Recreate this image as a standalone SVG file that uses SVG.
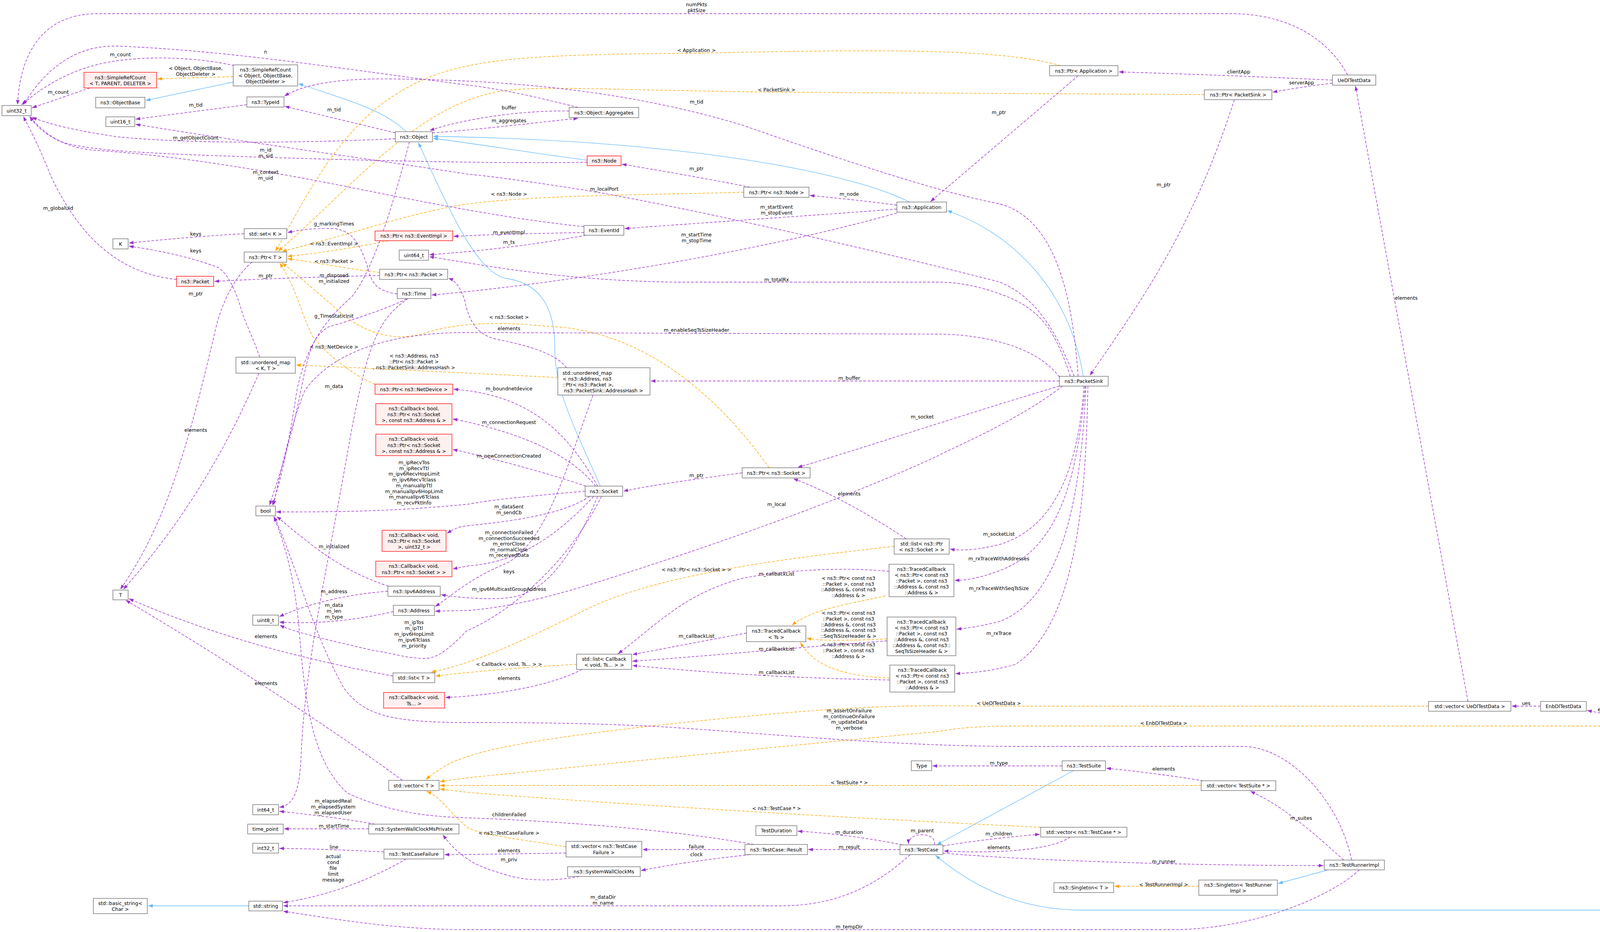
<svg xmlns="http://www.w3.org/2000/svg" width="4705" height="2385" viewBox="0 0 4705 2385">
<style>
text{font-family:"DejaVu Sans","Liberation Sans",sans-serif;font-size:12.5px;fill:#000;text-anchor:middle;dominant-baseline:central}
.n rect{fill:#fff;stroke:#666;stroke-width:1.3}
.r rect{fill:#fff0f0;stroke:#f00;stroke-width:1.3}
.g rect{fill:#999;stroke:#666;stroke-width:1.3}
.p{fill:none;stroke:#9a32cd;stroke-width:1.4;stroke-dasharray:7,4;marker-end:url(#ap)}
.o{fill:none;stroke:#ffa500;stroke-width:1.4;stroke-dasharray:7,4;marker-end:url(#ao)}
.b{fill:none;stroke:#63b8ff;stroke-width:1.3;marker-end:url(#ab)}
</style>
<defs>
<marker id="ap" markerUnits="userSpaceOnUse" markerWidth="13" markerHeight="9" refX="12" refY="4.5" orient="auto"><path d="M0,0 L12,4.5 L0,9 z" fill="#9a32cd"/></marker>
<marker id="ao" markerUnits="userSpaceOnUse" markerWidth="13" markerHeight="9" refX="12" refY="4.5" orient="auto"><path d="M0,0 L12,4.5 L0,9 z" fill="#ffa500"/></marker>
<marker id="ab" markerUnits="userSpaceOnUse" markerWidth="13" markerHeight="9" refX="12" refY="4.5" orient="auto"><path d="M0,0 L12,4.5 L0,9 z" fill="#63b8ff"/></marker>
</defs>
<rect width="4705" height="2385" fill="#fff"/>
<g id="edges">
<path class="b" d="M597,210 L373,257"/>
<path class="b" d="M1040,337 C980,280 900,260 764,214"/>
<path class="b" d="M1503,410 C1350,390 1200,365 1109,354"/>
<path class="b" d="M2330,518 C2200,450 1800,360 1109,349"/>
<path class="b" d="M1537,1244 C1450,1050 1420,990 1420,880 C1418,760 1360,720 1292,712 C1220,690 1160,560 1071,365"/>
<path class="b" d="M2773,963 C2740,750 2600,600 2425,539"/>
<path class="b" d="M2748,1972 L2398,2162"/>
<path class="b" d="M4558,2306 C4400,2315 4300,2329 4100,2329 L2770,2329 C2600,2329 2480,2260 2395,2189"/>
<path class="b" d="M3400,2226 L3272,2261"/>
<path class="b" d="M637,2318 L379,2318"/>
<path class="o" d="M597,196 L403,202"/>
<path class="o" d="M995,616 C900,635 800,650 736,656"/>
<path class="o" d="M972,697 C900,690 800,670 736,662"/>
<path class="o" d="M2715,168 C2550,120 2200,128 1783,136 C1300,140 1150,150 1000,250 C850,350 760,550 705,643"/>
<path class="o" d="M3083,242 L2000,236 C1500,230 1350,215 1250,240 C1050,290 900,480 712,643"/>
<path class="o" d="M1904,492 C1600,500 1300,500 1150,530 C1000,560 900,600 722,643"/>
<path class="o" d="M960,983 C900,960 830,900 800,860 C770,800 760,740 716,673"/>
<path class="o" d="M1969,1197 C1800,960 1600,840 1400,835 C1250,820 1150,830 1080,855 C980,880 900,830 850,780 C800,740 760,700 722,673"/>
<path class="o" d="M1428,966 C1200,955 900,940 758,934"/>
<path class="o" d="M2289,1398 C2100,1420 1700,1460 1500,1560 C1300,1660 1200,1700 1104,1720"/>
<path class="o" d="M1476,1700 C1300,1710 1200,1720 1115,1730"/>
<path class="o" d="M2267,1525 C2150,1550 2080,1560 2027,1600"/>
<path class="o" d="M2271,1635 C2150,1640 2100,1640 2065,1633"/>
<path class="o" d="M2278,1735 C2150,1730 2080,1700 2049,1644"/>
<path class="o" d="M3657,1807 L2600,1807 C2400,1807 2300,1800 2000,1825 C1600,1860 1300,1900 1200,1935 C1150,1950 1120,1970 1090,1995"/>
<path class="o" d="M4174,1858 L2600,1858 C2460,1858 2420,1870 2400,1872 C2000,1910 1600,1950 1200,1990 L1126,2000"/>
<path class="o" d="M3075,2010 L1126,2010"/>
<path class="o" d="M2664,2117 C2300,2100 1600,2060 1200,2028 L1126,2019"/>
<path class="o" d="M1449,2167 C1350,2150 1250,2140 1200,2120 C1150,2080 1130,2040 1092,2025"/>
<path class="o" d="M3069,2268 L2853,2268"/>
<path class="p" d="M2760,194 L2382,516"/>
<path class="p" d="M3160,255 C3050,600 2900,800 2790,961"/>
<path class="p" d="M3411,205 C3200,195 3000,188 2864,184"/>
<path class="p" d="M3411,213 C3350,220 3300,228 3258,236"/>
<path class="p" d="M3450,192 C3400,100 3300,35 3150,35 L250,35 C100,35 50,150 45,268"/>
<path class="p" d="M3758,1795 L3470,220"/>
<path class="p" d="M3944,1807 L3870,1807"/>
<path class="p" d="M4205,1845 C4150,1835 4100,1825 4063,1818"/>
<path class="p" d="M4618,2294 L4301,1872"/>
<path class="p" d="M230,225 L82,276"/>
<path class="p" d="M600,168 C500,145 350,140 250,165 C150,190 90,240 55,268"/>
<path class="p" d="M1480,275 C1400,255 1300,230 1200,218 C900,180 600,130 300,118 C200,115 120,170 60,268"/>
<path class="p" d="M2760,963 C2745,750 2700,560 2560,522 C2450,500 2300,460 1900,320 C1600,230 1300,205 1000,202 C850,200 770,220 728,246"/>
<path class="p" d="M632,268 L347,305"/>
<path class="p" d="M1012,340 L729,272"/>
<path class="p" d="M1012,355 C800,365 500,370 300,350 C200,335 130,320 82,300"/>
<path class="p" d="M1107,340 C1250,330 1400,310 1480,303"/>
<path class="p" d="M1457,284 C1350,282 1200,300 1100,334"/>
<path class="p" d="M1503,415 C1300,420 900,410 600,400 C300,390 200,380 150,360 C110,340 90,320 76,298"/>
<path class="p" d="M1920,479 C1800,455 1650,430 1592,420"/>
<path class="p" d="M2296,525 C2200,512 2120,505 2073,500"/>
<path class="p" d="M2296,535 C2100,550 1800,570 1599,585"/>
<path class="p" d="M2296,545 C2000,630 1500,720 1105,755"/>
<path class="p" d="M1495,580 C1300,560 1100,520 900,480 C600,420 400,395 250,385 C170,380 120,350 76,298"/>
<path class="p" d="M1495,595 C1350,598 1250,600 1161,605"/>
<path class="p" d="M1500,602 C1350,630 1200,645 1099,652"/>
<path class="p" d="M2750,963 C2700,840 2650,760 2560,722 C2400,680 1900,560 1547,495 C1400,470 1250,450 1200,446 C900,400 600,360 347,318"/>
<path class="p" d="M2740,963 C2700,840 2660,790 2568,755 C2500,730 2450,722 2400,722 L1736,722 C1500,720 1300,690 1200,673 C1150,665 1120,660 1099,657"/>
<path class="p" d="M1045,764 C960,820 940,900 900,1100 C830,1500 780,1700 770,1950 C765,2030 750,2060 715,2066"/>
<path class="p" d="M1017,752 C960,745 950,720 940,680 C920,620 900,590 855,585 C800,583 760,590 736,595"/>
<path class="p" d="M1041,765 C990,790 900,820 842,836 C800,860 790,900 770,1000 C740,1150 710,1230 690,1293"/>
<path class="p" d="M625,598 C500,605 400,615 330,622"/>
<path class="p" d="M665,914 C650,870 630,830 620,800 C600,730 580,700 560,685 C480,655 400,640 330,630"/>
<path class="p" d="M663,955 C600,1100 500,1300 316,1508"/>
<path class="p" d="M645,671 C610,700 570,760 550,850 C480,1150 420,1350 308,1508"/>
<path class="p" d="M452,715 C300,700 200,600 130,450 C90,350 70,320 60,298"/>
<path class="p" d="M972,705 C850,708 700,712 549,720"/>
<path class="p" d="M1048,363 C1000,550 950,700 900,760 C820,830 780,900 760,1000 C740,1130 720,1230 697,1293"/>
<path class="p" d="M1450,941 C1420,900 1330,880 1280,870 C1220,860 1200,820 1190,770 C1180,740 1170,720 1148,712"/>
<path class="p" d="M2712,975 L1666,975"/>
<path class="p" d="M2712,965 C2650,880 2500,855 2400,855 L1200,851 C1000,850 850,900 780,1000 C740,1100 720,1200 700,1293"/>
<path class="p" d="M2712,988 C2500,1050 2200,1150 2042,1196"/>
<path class="p" d="M2720,988 C2600,1080 2450,1140 2400,1167 C2200,1260 1900,1370 1659,1448 C1500,1500 1350,1550 1200,1562 L1114,1564"/>
<path class="p" d="M2775,988 C2760,1200 2700,1350 2560,1393 C2500,1408 2460,1410 2432,1405"/>
<path class="p" d="M2778,988 C2760,1200 2720,1400 2560,1460 C2500,1482 2470,1485 2444,1485"/>
<path class="p" d="M2780,988 C2770,1200 2740,1520 2560,1590 C2500,1605 2470,1608 2449,1610"/>
<path class="p" d="M2785,988 C2780,1300 2750,1600 2600,1700 C2530,1720 2480,1722 2446,1724"/>
<path class="p" d="M2320,1379 C2200,1300 2100,1250 2031,1225"/>
<path class="p" d="M1900,1210 C1750,1230 1650,1245 1596,1257"/>
<path class="p" d="M1530,1244 C1450,1100 1350,1010 1161,996"/>
<path class="p" d="M1525,1244 C1450,1150 1300,1100 1159,1072"/>
<path class="p" d="M1500,1244 C1400,1210 1250,1170 1159,1150"/>
<path class="p" d="M1498,1257 C1350,1270 1250,1280 1200,1290 C1000,1310 850,1310 707,1310"/>
<path class="p" d="M1510,1270 C1450,1310 1350,1330 1200,1345 C1170,1348 1160,1355 1144,1365"/>
<path class="p" d="M1520,1270 C1400,1400 1300,1440 1200,1448 L1159,1456"/>
<path class="p" d="M1530,1270 C1450,1460 1380,1520 1300,1530 C1250,1535 1180,1530 1129,1522"/>
<path class="p" d="M1518,1011 C1450,1200 1400,1380 1300,1440 C1200,1480 1150,1530 1114,1552"/>
<path class="p" d="M1540,1270 C1460,1430 1320,1560 1194,1615 C1150,1660 1120,1685 1087,1685 C1040,1685 1000,1670 957,1665 C850,1640 760,1620 716,1600"/>
<path class="p" d="M993,1513 C900,1520 800,1540 715,1578"/>
<path class="p" d="M1007,1565 C900,1590 800,1597 715,1592"/>
<path class="p" d="M995,1500 C900,1470 830,1420 780,1380 C740,1350 720,1330 708,1322"/>
<path class="p" d="M1006,1730 C850,1700 600,1650 330,1532"/>
<path class="p" d="M1030,1997 C900,1900 600,1700 322,1536"/>
<path class="p" d="M1490,1713 C1400,1760 1250,1780 1140,1785"/>
<path class="p" d="M1911,1620 C1800,1640 1700,1660 1619,1675"/>
<path class="p" d="M2276,1462 C2150,1450 2000,1460 1900,1480 C1750,1520 1680,1600 1582,1673"/>
<path class="p" d="M2271,1640 C2000,1660 1800,1680 1619,1692"/>
<path class="p" d="M2278,1740 C2000,1735 1800,1720 1619,1703"/>
<path class="p" d="M960,2109 C880,2095 800,2085 715,2076"/>
<path class="p" d="M944,2121 L727,2121"/>
<path class="p" d="M983,2180 C880,2175 800,2172 715,2171"/>
<path class="p" d="M1040,2198 C950,2250 850,2290 725,2310"/>
<path class="p" d="M1483,2243 C1420,2255 1350,2255 1300,2240 C1250,2225 1220,2215 1200,2200 C1170,2180 1150,2160 1134,2136"/>
<path class="p" d="M1449,2183 C1300,2185 1200,2187 1138,2187"/>
<path class="p" d="M1907,2174 L1645,2174"/>
<path class="p" d="M1920,2187 C1800,2200 1700,2215 1641,2228"/>
<path class="p" d="M1930,2161 C1700,2120 1400,2100 1200,2093 C1100,2090 1000,2080 890,2030 C800,1950 780,1800 765,1600 C750,1450 720,1370 701,1322"/>
<path class="p" d="M2304,2174 L2069,2174"/>
<path class="p" d="M2310,2162 C2200,2140 2100,2130 2042,2127"/>
<path class="p" d="M2392,2162 C2395,2145 2380,2136 2360,2136 C2340,2136 2325,2145 2326,2160"/>
<path class="p" d="M2414,2165 C2500,2150 2600,2140 2662,2135"/>
<path class="p" d="M2740,2142 C2700,2170 2600,2180 2500,2180 C2450,2180 2430,2178 2416,2178"/>
<path class="p" d="M2414,2183 C2600,2200 3000,2215 3388,2215"/>
<path class="p" d="M2330,2187 C2250,2260 2150,2318 2000,2318 L725,2318"/>
<path class="p" d="M3480,2226 C3400,2300 3200,2379 3000,2379 L1200,2379 C1000,2379 850,2350 725,2332"/>
<path class="p" d="M3440,2201 C3350,2120 3280,2060 3201,2025"/>
<path class="p" d="M3460,2201 C3430,2050 3300,1910 3180,1910 L2600,1910 C2300,1910 2000,1880 1700,1860 C1500,1849 1300,1849 1200,1849 C1000,1849 930,1830 880,1760 C800,1620 760,1450 702,1322"/>
<path class="p" d="M2719,1960 L2387,1960"/>
<path class="p" d="M3080,1998 C3000,1985 2900,1972 2832,1966"/>
</g>
<g id="edge-labels">
<text x="308" y="139">m_count</text>
<text x="680" y="132">n</text>
<text x="501" y="174">&lt; Object, ObjectBase,<tspan x="501" dy="15">ObjectDeleter &gt;</tspan></text>
<text x="149" y="235">m_count</text>
<text x="501" y="268">m_tid</text>
<text x="855" y="280">m_tid</text>
<text x="501" y="352">m_getObjectCount</text>
<text x="680" y="383">m_id<tspan x="680" dy="15">m_sid</tspan></text>
<text x="680" y="440">m_context<tspan x="680" dy="15">m_uid</tspan></text>
<text x="149" y="532">m_globalUid</text>
<text x="855" y="572">g_markingTimes</text>
<text x="501" y="598">keys</text>
<text x="501" y="641">keys</text>
<text x="855" y="623">&lt; ns3::EventImpl &gt;</text>
<text x="855" y="668">&lt; ns3::Packet &gt;</text>
<text x="680" y="705">m_ptr</text>
<text x="855" y="704">m_disposed<tspan x="855" dy="15">m_initialized</tspan></text>
<text x="501" y="751">m_ptr</text>
<text x="855" y="808">g_TimeStaticInit</text>
<text x="855" y="887">&lt; ns3::NetDevice &gt;</text>
<text x="1060" y="910">&lt; ns3::Address, ns3<tspan x="1060" dy="15">::Ptr&lt; ns3::Packet &gt;</tspan><tspan x="1060" dy="15">, ns3::PacketSink::AddressHash &gt;</tspan></text>
<text x="855" y="988">m_data</text>
<text x="501" y="1100">elements</text>
<text x="1060" y="1183">m_ipRecvTos<tspan x="1060" dy="14.7">m_ipRecvTtl</tspan><tspan x="1060" dy="14.7">m_ipv6RecvHopLimit</tspan><tspan x="1060" dy="14.7">m_ipv6RecvTclass</tspan><tspan x="1060" dy="14.7">m_manualIpTtl</tspan><tspan x="1060" dy="14.7">m_manualIpv6HopLimit</tspan><tspan x="1060" dy="14.7">m_manualIpv6Tclass</tspan><tspan x="1060" dy="14.7">m_recvPktInfo</tspan></text>
<text x="855" y="1398">m_initialized</text>
<text x="855" y="1513">m_address</text>
<text x="855" y="1548">m_data<tspan x="855" dy="15">m_len</tspan><tspan x="855" dy="15">m_type</tspan></text>
<text x="1060" y="1592">m_ipTos<tspan x="1060" dy="15">m_ipTtl</tspan><tspan x="1060" dy="15">m_ipv6HopLimit</tspan><tspan x="1060" dy="15">m_ipv6Tclass</tspan><tspan x="1060" dy="15">m_priority</tspan></text>
<text x="681" y="1628">elements</text>
<text x="681" y="1748">elements</text>
<text x="853" y="2049">m_elapsedReal<tspan x="853" dy="15">m_elapsedSystem</tspan><tspan x="853" dy="15">m_elapsedUser</tspan></text>
<text x="855" y="2113">m_startTime</text>
<text x="855" y="2167">line</text>
<text x="853" y="2191">actual<tspan x="853" dy="15">cond</tspan><tspan x="853" dy="15">file</tspan><tspan x="853" dy="15">limit</tspan><tspan x="853" dy="15">message</tspan></text>
<text x="1783" y="11">numPkts<tspan x="1783" dy="15">pktSize</tspan></text>
<text x="1783" y="128">&lt; Application &gt;</text>
<text x="1988" y="229">&lt; PacketSink &gt;</text>
<text x="1783" y="260">m_tid</text>
<text x="1303" y="275">buffer</text>
<text x="1303" y="308">m_aggregates</text>
<text x="1783" y="431">m_ptr</text>
<text x="1547" y="483">m_localPort</text>
<text x="1303" y="496">&lt; ns3::Node &gt;</text>
<text x="2174" y="496">m_node</text>
<text x="1988" y="529">m_startEvent<tspan x="1988" dy="15">m_stopEvent</tspan></text>
<text x="1303" y="594">m_eventImpl</text>
<text x="1303" y="619">m_ts</text>
<text x="1783" y="600">m_startTime<tspan x="1783" dy="15">m_stopTime</tspan></text>
<text x="1988" y="715">m_totalRx</text>
<text x="1303" y="811">&lt; ns3::Socket &gt;</text>
<text x="1303" y="840">elements</text>
<text x="1783" y="844">m_enableSeqTsSizeHeader</text>
<text x="2174" y="967">m_buffer</text>
<text x="1303" y="994">m_boundnetdevice</text>
<text x="1303" y="1080">m_connectionRequest</text>
<text x="2361" y="1066">m_socket</text>
<text x="1303" y="1166">m_newConnectionCreated</text>
<text x="1783" y="1216">m_ptr</text>
<text x="2174" y="1263">elements</text>
<text x="1988" y="1290">m_local</text>
<text x="1303" y="1296">m_dataSent<tspan x="1303" dy="15">m_sendCb</tspan></text>
<text x="1303" y="1362">m_connectionFailed<tspan x="1303" dy="14.5">m_connectionSucceeded</tspan><tspan x="1303" dy="14.5">m_errorClose</tspan><tspan x="1303" dy="14.5">m_normalClose</tspan><tspan x="1303" dy="14.5">m_receivedData</tspan></text>
<text x="1303" y="1462">keys</text>
<text x="1783" y="1457">&lt; ns3::Ptr&lt; ns3::Socket &gt; &gt;</text>
<text x="1988" y="1468">m_callbackList</text>
<text x="2172" y="1479">&lt; ns3::Ptr&lt; const ns3<tspan x="2172" dy="14.5">::Packet &gt;, const ns3</tspan><tspan x="2172" dy="14.5">::Address &amp;, const ns3</tspan><tspan x="2172" dy="14.5">::Address &amp; &gt;</tspan></text>
<text x="1303" y="1507">m_ipv6MulticastGroupAddress</text>
<text x="2172" y="1568">&lt; ns3::Ptr&lt; const ns3<tspan x="2172" dy="14.8">::Packet &gt;, const ns3</tspan><tspan x="2172" dy="14.8">::Address &amp;, const ns3</tspan><tspan x="2172" dy="14.8">::Address &amp;, const ns3</tspan><tspan x="2172" dy="14.8">::SeqTsSizeHeader &amp; &gt;</tspan></text>
<text x="1783" y="1627">m_callbackList</text>
<text x="1303" y="1699">&lt; Callback&lt; void, Ts... &gt; &gt;</text>
<text x="1303" y="1735">elements</text>
<text x="1988" y="1660">m_callbackList</text>
<text x="2172" y="1649">&lt; ns3::Ptr&lt; const ns3<tspan x="2172" dy="15">::Packet &gt;, const ns3</tspan><tspan x="2172" dy="15">::Address &amp; &gt;</tspan></text>
<text x="1988" y="1720">m_callbackList</text>
<text x="2174" y="1818">m_assertOnFailure<tspan x="2174" dy="14.7">m_continueOnFailure</tspan><tspan x="2174" dy="14.7">m_updateData</tspan><tspan x="2174" dy="14.7">m_verbose</tspan></text>
<text x="2174" y="2002">&lt; TestSuite * &gt;</text>
<text x="1988" y="2068">&lt; ns3::TestCase * &gt;</text>
<text x="1303" y="2084">childrenFailed</text>
<text x="2174" y="2129">m_duration</text>
<text x="2361" y="2125">m_parent</text>
<text x="1303" y="2131">&lt; ns3::TestCaseFailure &gt;</text>
<text x="1783" y="2166">failure</text>
<text x="2174" y="2167">m_result</text>
<text x="1303" y="2176">elements</text>
<text x="1783" y="2186">clock</text>
<text x="1303" y="2199">m_priv</text>
<text x="1544" y="2295">m_dataDir<tspan x="1544" dy="15">m_name</tspan></text>
<text x="2174" y="2371">m_tempDir</text>
<text x="3171" y="183">clientApp</text>
<text x="3332" y="211">serverApp</text>
<text x="2557" y="287">m_ptr</text>
<text x="2979" y="472">m_ptr</text>
<text x="2557" y="1366">m_socketList</text>
<text x="2557" y="1429">m_rxTraceWithAddresses</text>
<text x="2557" y="1505">m_rxTraceWithSeqTsSize</text>
<text x="2557" y="1620">m_rxTrace</text>
<text x="2557" y="1799">&lt; UeDlTestData &gt;</text>
<text x="2979" y="1850">&lt; EnbDlTestData &gt;</text>
<text x="2557" y="1952">m_type</text>
<text x="2979" y="1967">elements</text>
<text x="3331" y="2093">m_suites</text>
<text x="2557" y="2133">m_children</text>
<text x="2557" y="2168">elements</text>
<text x="2979" y="2204">m_runner</text>
<text x="2979" y="2263">&lt; TestRunnerImpl &gt;</text>
<text x="3600" y="762">elements</text>
<text x="3907" y="1799">ues</text>
<text x="4119" y="1815">elements</text>
<text x="4476" y="2022">m_enbDlTestData</text>
</g>
<g id="n1" class="n"><rect x="5" y="270" width="75" height="26"/><text x="42.5" y="283">uint32_t</text></g>
<g id="n2" class="r"><rect x="215" y="185" width="186" height="40"/><text x="308" y="198">ns3::SimpleRefCount<tspan x="308" dy="15">&lt; T, PARENT, DELETER &gt;</tspan></text></g>
<g id="n3" class="n"><rect x="597" y="166" width="165" height="54"/><text x="679.5" y="178">ns3::SimpleRefCount<tspan x="679.5" dy="15">&lt; Object, ObjectBase,</tspan><tspan x="679.5" dy="15">ObjectDeleter &gt;</tspan></text></g>
<g id="n4" class="n"><rect x="245" y="249" width="126" height="27"/><text x="308" y="262.5">ns3::ObjectBase</text></g>
<g id="n5" class="n"><rect x="632" y="248" width="95" height="26"/><text x="679.5" y="261">ns3::TypeId</text></g>
<g id="n6" class="n"><rect x="271" y="299" width="74" height="25"/><text x="308" y="311.5">uint16_t</text></g>
<g id="n7" class="n"><rect x="1012" y="337" width="95" height="26"/><text x="1059.5" y="350">ns3::Object</text></g>
<g id="n8" class="n"><rect x="625" y="585" width="109" height="26"/><text x="679.5" y="598">std::set&lt; K &gt;</text></g>
<g id="n9" class="n"><rect x="289" y="611" width="39" height="26"/><text x="308.5" y="624">K</text></g>
<g id="n10" class="n"><rect x="625" y="645" width="109" height="26"/><text x="679.5" y="658">ns3::Ptr&lt; T &gt;</text></g>
<g id="n11" class="r"><rect x="452" y="707" width="95" height="26"/><text x="499.5" y="720">ns3::Packet</text></g>
<g id="n12" class="r"><rect x="960" y="591" width="199" height="25"/><text x="1059.5" y="603.5">ns3::Ptr&lt; ns3::EventImpl &gt;</text></g>
<g id="n13" class="n"><rect x="1022" y="640" width="75" height="26"/><text x="1059.5" y="653">uint64_t</text></g>
<g id="n14" class="n"><rect x="972" y="689" width="174" height="26"/><text x="1059" y="702">ns3::Ptr&lt; ns3::Packet &gt;</text></g>
<g id="n15" class="n"><rect x="1017" y="738" width="86" height="26"/><text x="1060" y="751">ns3::Time</text></g>
<g id="n16" class="n"><rect x="604" y="914" width="152" height="41"/><text x="680" y="927">std::unordered_map<tspan x="680" dy="15">&lt; K, T &gt;</tspan></text></g>
<g id="n17" class="r"><rect x="960" y="983" width="199" height="26"/><text x="1059.5" y="996">ns3::Ptr&lt; ns3::NetDevice &gt;</text></g>
<g id="n18" class="r"><rect x="962" y="1033" width="195" height="54"/><text x="1059.5" y="1045">ns3::Callback&lt; bool,<tspan x="1059.5" dy="15">ns3::Ptr&lt; ns3::Socket</tspan><tspan x="1059.5" dy="15">&gt;, const ns3::Address &amp; &gt;</tspan></text></g>
<g id="n19" class="r"><rect x="962" y="1111" width="195" height="55"/><text x="1059.5" y="1123.5">ns3::Callback&lt; void,<tspan x="1059.5" dy="15">ns3::Ptr&lt; ns3::Socket</tspan><tspan x="1059.5" dy="15">&gt;, const ns3::Address &amp; &gt;</tspan></text></g>
<g id="n20" class="n"><rect x="655" y="1295" width="50" height="25"/><text x="680" y="1307.5">bool</text></g>
<g id="n21" class="r"><rect x="978" y="1357" width="164" height="54"/><text x="1060" y="1369">ns3::Callback&lt; void,<tspan x="1060" dy="15">ns3::Ptr&lt; ns3::Socket</tspan><tspan x="1060" dy="15">&gt;, uint32_t &gt;</tspan></text></g>
<g id="n22" class="r"><rect x="962" y="1436" width="195" height="40"/><text x="1059.5" y="1448.5">ns3::Callback&lt; void,<tspan x="1059.5" dy="15">ns3::Ptr&lt; ns3::Socket &gt; &gt;</tspan></text></g>
<g id="n23" class="n"><rect x="289" y="1510" width="39" height="25"/><text x="308.5" y="1522.5">T</text></g>
<g id="n24" class="n"><rect x="993" y="1500" width="134" height="26"/><text x="1060" y="1513">ns3::Ipv6Address</text></g>
<g id="n25" class="n"><rect x="1007" y="1549" width="105" height="26"/><text x="1059.5" y="1562">ns3::Address</text></g>
<g id="n26" class="n"><rect x="647" y="1574" width="66" height="26"/><text x="680" y="1587">uint8_t</text></g>
<g id="n27" class="n"><rect x="1006" y="1722" width="107" height="25"/><text x="1059.5" y="1734.5">std::list&lt; T &gt;</text></g>
<g id="n28" class="r"><rect x="982" y="1772" width="156" height="40"/><text x="1060" y="1784.5">ns3::Callback&lt; void,<tspan x="1060" dy="15">Ts... &gt;</tspan></text></g>
<g id="n29" class="n"><rect x="995" y="1997" width="129" height="26"/><text x="1059.5" y="2010">std::vector&lt; T &gt;</text></g>
<g id="n30" class="n"><rect x="647" y="2059" width="66" height="26"/><text x="680" y="2072">int64_t</text></g>
<g id="n31" class="n"><rect x="634" y="2109" width="91" height="25"/><text x="679.5" y="2121.5">time_point</text></g>
<g id="n32" class="n"><rect x="944" y="2109" width="231" height="25"/><text x="1059.5" y="2121.5">ns3::SystemWallClockMsPrivate</text></g>
<g id="n33" class="n"><rect x="647" y="2158" width="66" height="25"/><text x="680" y="2170.5">int32_t</text></g>
<g id="n34" class="n"><rect x="983" y="2173" width="153" height="25"/><text x="1059.5" y="2185.5">ns3::TestCaseFailure</text></g>
<g id="n35" class="n"><rect x="239" y="2299" width="138" height="39"/><text x="308" y="2311">std::basic_string&lt;<tspan x="308" dy="15">Char &gt;</tspan></text></g>
<g id="n36" class="n"><rect x="637" y="2306" width="86" height="25"/><text x="680" y="2318.5">std::string</text></g>
<g id="n37" class="n"><rect x="1457" y="275" width="178" height="26"/><text x="1546" y="288">ns3::Object::Aggregates</text></g>
<g id="n38" class="r"><rect x="1503" y="399" width="87" height="25"/><text x="1546.5" y="411.5">ns3::Node</text></g>
<g id="n39" class="n"><rect x="1904" y="479" width="167" height="26"/><text x="1987.5" y="492">ns3::Ptr&lt; ns3::Node &gt;</text></g>
<g id="n40" class="n"><rect x="2296" y="517" width="127" height="26"/><text x="2359.5" y="530">ns3::Application</text></g>
<g id="n41" class="n"><rect x="1495" y="577" width="102" height="25"/><text x="1546" y="589.5">ns3::EventId</text></g>
<g id="n42" class="n"><rect x="1428" y="941" width="236" height="70"/><text x="1440" y="954" style="text-anchor:start">std::unordered_map<tspan x="1440" dy="15">&lt; ns3::Address, ns3</tspan><tspan x="1440" dy="15">::Ptr&lt; ns3::Packet &gt;,</tspan><tspan x="1440" dy="15"> ns3::PacketSink::AddressHash &gt;</tspan></text></g>
<g id="n43" class="n"><rect x="1900" y="1197" width="174" height="26"/><text x="1987" y="1210">ns3::Ptr&lt; ns3::Socket &gt;</text></g>
<g id="n44" class="n"><rect x="1498" y="1244" width="96" height="26"/><text x="1546" y="1257">ns3::Socket</text></g>
<g id="n45" class="n"><rect x="2289" y="1379" width="141" height="39"/><text x="2359.5" y="1391">std::list&lt; ns3::Ptr<tspan x="2359.5" dy="15">&lt; ns3::Socket &gt; &gt;</tspan></text></g>
<g id="n46" class="n"><rect x="2276" y="1444" width="166" height="83"/><text x="2359" y="1456">ns3::TracedCallback<tspan x="2359" dy="15">&lt; ns3::Ptr&lt; const ns3</tspan><tspan x="2359" dy="15">::Packet &gt;, const ns3</tspan><tspan x="2359" dy="15">::Address &amp;, const ns3</tspan><tspan x="2359" dy="15">::Address &amp; &gt;</tspan></text></g>
<g id="n47" class="n"><rect x="2271" y="1579" width="176" height="99"/><text x="2359" y="1591">ns3::TracedCallback<tspan x="2359" dy="15">&lt; ns3::Ptr&lt; const ns3</tspan><tspan x="2359" dy="15">::Packet &gt;, const ns3</tspan><tspan x="2359" dy="15">::Address &amp;, const ns3</tspan><tspan x="2359" dy="15">::Address &amp;, const ns3::</tspan><tspan x="2359" dy="15">SeqTsSizeHeader &amp; &gt;</tspan></text></g>
<g id="n48" class="n"><rect x="1911" y="1602" width="152" height="40"/><text x="1987" y="1614.5">ns3::TracedCallback<tspan x="1987" dy="15">&lt; Ts &gt;</tspan></text></g>
<g id="n49" class="n"><rect x="1476" y="1674" width="141" height="39"/><text x="1546.5" y="1686">std::list&lt; Callback<tspan x="1546.5" dy="15">&lt; void, Ts... &gt; &gt;</tspan></text></g>
<g id="n50" class="n"><rect x="2278" y="1702" width="166" height="69"/><text x="2361" y="1714">ns3::TracedCallback<tspan x="2361" dy="15">&lt; ns3::Ptr&lt; const ns3</tspan><tspan x="2361" dy="15">::Packet &gt;, const ns3</tspan><tspan x="2361" dy="15">::Address &amp; &gt;</tspan></text></g>
<g id="n51" class="n"><rect x="2333" y="1947" width="52" height="25"/><text x="2359" y="1959.5">Type</text></g>
<g id="n52" class="n"><rect x="1935" y="2113" width="105" height="25"/><text x="1987.5" y="2125.5">TestDuration</text></g>
<g id="n53" class="n"><rect x="1449" y="2153" width="194" height="40"/><text x="1546" y="2165.5">std::vector&lt; ns3::TestCase<tspan x="1546" dy="15">Failure &gt;</tspan></text></g>
<g id="n54" class="n"><rect x="1907" y="2161" width="160" height="26"/><text x="1987" y="2174">ns3::TestCase::Result</text></g>
<g id="n55" class="n"><rect x="2304" y="2162" width="110" height="25"/><text x="2359" y="2174.5">ns3::TestCase</text></g>
<g id="n56" class="n"><rect x="1453" y="2218" width="186" height="25"/><text x="1546" y="2230.5">ns3::SystemWallClockMs</text></g>
<g id="n57" class="n"><rect x="2687" y="168" width="175" height="26"/><text x="2774.5" y="181">ns3::Ptr&lt; Application &gt;</text></g>
<g id="n58" class="n"><rect x="3411" y="192" width="111" height="26"/><text x="3466.5" y="205">UeDlTestData</text></g>
<g id="n59" class="n"><rect x="3083" y="230" width="173" height="25"/><text x="3169.5" y="242.5">ns3::Ptr&lt; PacketSink &gt;</text></g>
<g id="n60" class="n"><rect x="2712" y="963" width="125" height="25"/><text x="2774.5" y="975.5">ns3::PacketSink</text></g>
<g id="n61" class="n"><rect x="2719" y="1947" width="111" height="25"/><text x="2774.5" y="1959.5">ns3::TestSuite</text></g>
<g id="n62" class="n"><rect x="3075" y="1998" width="191" height="25"/><text x="3170.5" y="2010.5">std::vector&lt; TestSuite * &gt;</text></g>
<g id="n63" class="n"><rect x="2664" y="2117" width="221" height="25"/><text x="2774.5" y="2129.5">std::vector&lt; ns3::TestCase * &gt;</text></g>
<g id="n64" class="n"><rect x="3390" y="2201" width="154" height="25"/><text x="3467" y="2213.5">ns3::TestRunnerImpl</text></g>
<g id="n65" class="n"><rect x="2698" y="2259" width="153" height="25"/><text x="2774.5" y="2271.5">ns3::Singleton&lt; T &gt;</text></g>
<g id="n66" class="n"><rect x="3069" y="2252" width="201" height="39"/><text x="3169.5" y="2264">ns3::Singleton&lt; TestRunner<tspan x="3169.5" dy="15">Impl &gt;</tspan></text></g>
<g id="n67" class="n"><rect x="3657" y="1795" width="211" height="25"/><text x="3762.5" y="1807.5">std::vector&lt; UeDlTestData &gt;</text></g>
<g id="n68" class="n"><rect x="3944" y="1795" width="117" height="25"/><text x="4002.5" y="1807.5">EnbDlTestData</text></g>
<g id="n69" class="n"><rect x="4174" y="1845" width="217" height="25"/><text x="4282.5" y="1857.5">std::vector&lt; EnbDlTestData &gt;</text></g>
<g id="n70" class="g"><rect x="4558" y="2294" width="141" height="26"/><text x="4628.5" y="2307">EpcS1uDlTestCase</text></g>
</svg>
